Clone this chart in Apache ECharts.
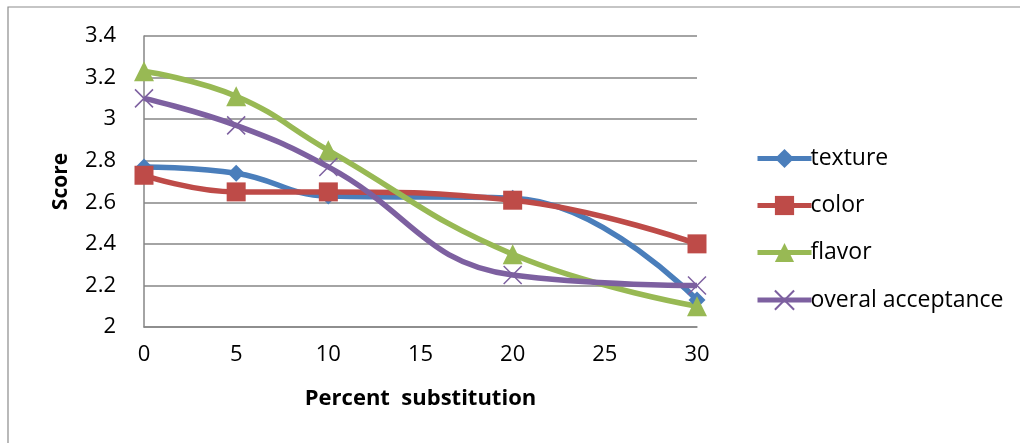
<!DOCTYPE html>
<html><head><meta charset="utf-8">
<script src="https://cdn.jsdelivr.net/npm/echarts@6/dist/echarts.min.js"></script>
<style>html,body{margin:0;padding:0;background:#fff}#c{width:1020px;height:443px}</style>
</head><body><div id="c"></div>
<script>
const xValues = [0, 5, 10, 20, 30];
const texture = [2.77, 2.74, 2.63, 2.62, 2.13];
const color = [2.73, 2.65, 2.65, 2.61, 2.40];
const flavor = [3.23, 3.11, 2.85, 2.35, 2.10];
const overall = [3.10, 2.97, 2.77, 2.25, 2.20];
const seriesNames = ['texture', 'color', 'flavor', 'overal acceptance'];

const pair = arr => xValues.map((x, i) => [x, arr[i]]);
const font = 'Open Sans, Liberation Sans, sans-serif';
const chart = echarts.init(document.getElementById('c'));
const mk = (name, data, col, symbol, size, extra) => Object.assign({
  name, type: 'line', data: pair(data), smooth: 0.45,
  symbol, symbolSize: size,
  lineStyle: { color: col, width: 5.5 },
  itemStyle: { color: col },
  z: 3
}, extra || {});

chart.setOption({
  animation: false,
  graphic: [{ type: 'rect', shape: { x: 8, y: 7, width: 1030, height: 460 },
    style: { fill: 'none', stroke: '#8c8c8c', lineWidth: 1.2 }, silent: true }],
  grid: { left: 144, top: 36, width: 553, height: 291 },
  xAxis: {
    type: 'value', min: 0, max: 30, interval: 5,
    name: 'Percent  substitution', nameLocation: 'middle', nameGap: 61,
    nameTextStyle: { fontFamily: font, fontWeight: 'bold', fontSize: 22, color: '#000' },
    axisLine: { show: true, lineStyle: { color: '#868686', width: 1.5 } },
    axisTick: { show: false },
    splitLine: { show: false },
    axisLabel: { fontFamily: font, fontSize: 22, color: '#000', margin: 17 }
  },
  yAxis: {
    type: 'value', min: 2, max: 3.4, interval: 0.2,
    name: 'Score', nameLocation: 'middle', nameGap: 72,
    nameTextStyle: { fontFamily: font, fontWeight: 'bold', fontSize: 21, color: '#000' },
    axisLine: { show: true, lineStyle: { color: '#868686', width: 1.5 } },
    axisTick: { show: false },
    splitLine: { lineStyle: { color: '#868686', width: 1.5 } },
    axisLabel: { fontFamily: font, fontSize: 22, color: '#000', margin: 28,
      formatter: v => String(Math.round(v * 10) / 10) }
  },
  legend: {
    orient: 'vertical', left: 750, top: 142, itemGap: 24,
    itemWidth: 54, itemHeight: 24,
    lineStyle: { width: 5 },
    textStyle: { fontFamily: font, fontSize: 23, color: '#000', padding: [0, 0, 0, -6] },
    data: seriesNames
  },
  series: [
    mk(seriesNames[0], texture, '#4a7ebb', 'diamond', 17),
    mk(seriesNames[1], color, '#be4b48', 'rect', 19),
    mk(seriesNames[2], flavor, '#98b954', 'triangle', 20),
    mk(seriesNames[3], overall, '#7d60a0', 'path://M0,0L10,10M10,0L0,10', 18,
      { itemStyle: { color: 'none', borderColor: '#7d60a0', borderWidth: 1.5 } })
  ]
});
</script></body></html>
